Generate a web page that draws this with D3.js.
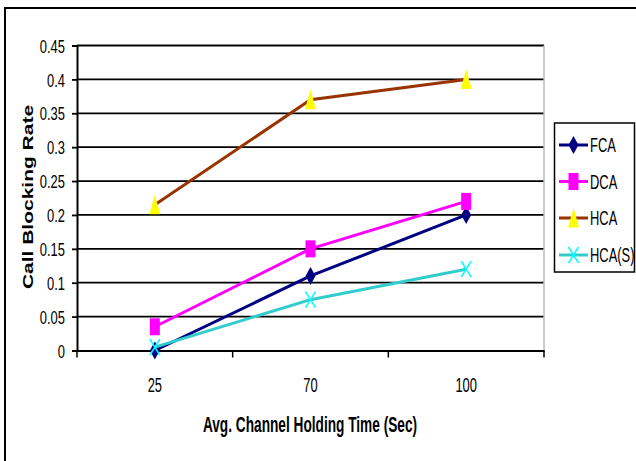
<!DOCTYPE html>
<html>
<head>
<meta charset="utf-8">
<script src="https://cdn.jsdelivr.net/npm/d3@7/dist/d3.min.js"></script>
<style>
  html, body { margin: 0; padding: 0; background: #fff; }
  svg { display: block; }
  text { font-family: "Liberation Sans", Arial, sans-serif; fill: #000; }
</style>
</head>
<body>
<svg id="chart" width="636" height="461"></svg>
<script>
// Holding time categories (x axis)
const categories = ["25", "70", "100"];

// Call blocking rate for each allocation scheme
const fca  = [0, 0.11, 0.2];
const dca  = [0.035, 0.15, 0.22];
const hca  = [0.215, 0.37, 0.4];
const hcas = [0.005, 0.075, 0.12];

// Y axis tick values
const yTicks = [0, 0.05, 0.1, 0.15, 0.2, 0.25, 0.3, 0.35, 0.4, 0.45];

const series = [
  { name: "FCA",    values: fca,  line: "#000080", fill: "#000080", marker: "diamond" },
  { name: "DCA",    values: dca,  line: "#FF00FF", fill: "#FF00FF", marker: "square" },
  { name: "HCA",    values: hca,  line: "#993300", fill: "#FFFF00", marker: "triangle" },
  { name: "HCA(S)", values: hcas, line: "#33CCCC", fill: "#00FFFF", marker: "cross" }
];

// Text is condensed horizontally and a little tall
const SQ = 0.76;

const svg = d3.select("#chart");

// Place a condensed text with its baseline at (px, py)
function label(parent, px, py, str, size, anchor, bold, sy) {
  return parent.append("text")
    .attr("transform", `translate(${px},${py}) scale(${SQ},${sy})`)
    .attr("text-anchor", anchor)
    .attr("font-size", size)
    .attr("font-weight", bold ? "bold" : "normal")
    .text(str);
}

// Outer chart frame (runs off the right and bottom edges)
svg.append("rect")
  .attr("x", 5).attr("y", 8)
  .attr("width", 700).attr("height", 600)
  .attr("fill", "none").attr("stroke", "#000").attr("stroke-width", 2);

const plot = { left: 77, right: 544, top: 45.5, bottom: 350.5 };

const x = d3.scaleBand().domain(categories).range([plot.left, plot.right]).padding(0);
const y = d3.scaleLinear().domain([0, 0.45]).range([plot.bottom, plot.top]);
const cx = c => x(c) + x.bandwidth() / 2;

// Horizontal gridlines
svg.append("g").selectAll("line").data(yTicks.filter(t => t > 0)).join("line")
  .attr("x1", plot.left).attr("x2", plot.right)
  .attr("y1", d => y(d)).attr("y2", d => y(d))
  .attr("stroke", "#000").attr("stroke-width", 1.8);

// Plot area right edge
svg.append("line")
  .attr("x1", plot.right).attr("x2", plot.right)
  .attr("y1", plot.top).attr("y2", plot.bottom)
  .attr("stroke", "#b8b8b8").attr("stroke-width", 1.5);

// Y axis
const Y_SY = 1.12;
const yAxis = svg.append("g")
  .attr("transform", `translate(${plot.left},0)`)
  .call(d3.axisLeft(y).tickValues(yTicks).tickSize(5).tickPadding(7)
    .tickFormat(d => String(+d.toFixed(2))));
yAxis.attr("font-family", null).attr("font-size", null);
yAxis.select(".domain").attr("stroke", "#000").attr("stroke-width", 2);
yAxis.selectAll(".tick line").attr("stroke", "#000").attr("stroke-width", 1.8);
yAxis.selectAll(".tick text")
  .attr("font-size", 17)
  .attr("x", -12 / SQ)
  .attr("y", 0)
  .attr("dy", "0.35em")
  .attr("transform", `scale(${SQ},${Y_SY})`);

// X axis: ticks sit between category bands
const X_SY = 1.18;
const xAxis = svg.append("g")
  .attr("transform", `translate(0,${plot.bottom})`)
  .call(d3.axisBottom(x).tickSize(0));
xAxis.attr("font-family", null).attr("font-size", null);
xAxis.select(".domain").attr("stroke", "#000").attr("stroke-width", 2);
xAxis.selectAll(".tick text")
  .attr("font-size", 17)
  .attr("y", 41.5 / X_SY)
  .attr("dy", 0)
  .attr("transform", `scale(${SQ},${X_SY})`);
svg.append("g").selectAll("line")
  .data(categories.map(c => x(c) + x.bandwidth()).concat([plot.left]))
  .join("line")
  .attr("x1", d => d).attr("x2", d => d)
  .attr("y1", plot.bottom).attr("y2", plot.bottom + 7)
  .attr("stroke", "#000").attr("stroke-width", 1.5);

// Axis titles
label(svg, 310, 432, "Avg. Channel Holding Time (Sec)", 18, "middle", true, 1.22);

svg.append("text")
  .attr("transform", "translate(33,197) rotate(-90) scale(1.5,1)")
  .attr("text-anchor", "middle")
  .attr("font-size", 14).attr("font-weight", "bold")
  .text("Call Blocking Rate");

// Marker shapes (tall, as the chart is stretched vertically)
function drawMarker(g, type, fill, px, py) {
  if (type === "diamond") {
    g.append("path").attr("d", `M${px},${py - 9} L${px + 5},${py} L${px},${py + 9} L${px - 5},${py} Z`).attr("fill", fill);
  } else if (type === "square") {
    g.append("rect").attr("x", px - 5).attr("y", py - 8.5).attr("width", 10).attr("height", 17).attr("fill", fill);
  } else if (type === "triangle") {
    g.append("path").attr("d", `M${px},${py - 10} L${px + 5.5},${py + 9.5} L${px - 5.5},${py + 9.5} Z`).attr("fill", fill);
  } else if (type === "cross") {
    g.append("path").attr("d", `M${px - 5},${py - 8} L${px + 5},${py + 8} M${px + 5},${py - 8} L${px - 5},${py + 8}`)
      .attr("stroke", fill).attr("stroke-width", 1.6).attr("fill", "none");
  }
}

const line = d3.line().x(d => cx(d.c)).y(d => y(d.v));

series.forEach(s => {
  const pts = categories.map((c, i) => ({ c, v: s.values[i] }));
  const g = svg.append("g");
  g.append("path").datum(pts).attr("d", line)
    .attr("fill", "none").attr("stroke", s.line).attr("stroke-width", 3);
  pts.forEach(p => drawMarker(g, s.marker, s.fill, cx(p.c), y(p.v)));
});

// Legend
const legend = svg.append("g");
legend.append("rect")
  .attr("x", 554.5).attr("y", 123).attr("width", 80).attr("height", 149)
  .attr("fill", "#fff").attr("stroke", "#000").attr("stroke-width", 1.5);
const legendY = [145, 181.5, 218, 255];
series.forEach((s, i) => {
  const ly = legendY[i];
  legend.append("line")
    .attr("x1", 559).attr("x2", 588).attr("y1", ly).attr("y2", ly)
    .attr("stroke", s.line).attr("stroke-width", 3);
  drawMarker(legend, s.marker, s.fill, 573.5, ly);
  label(legend, 590, ly + 7, s.name, 17, "start", false, 1.15);
});
</script>
</body>
</html>
